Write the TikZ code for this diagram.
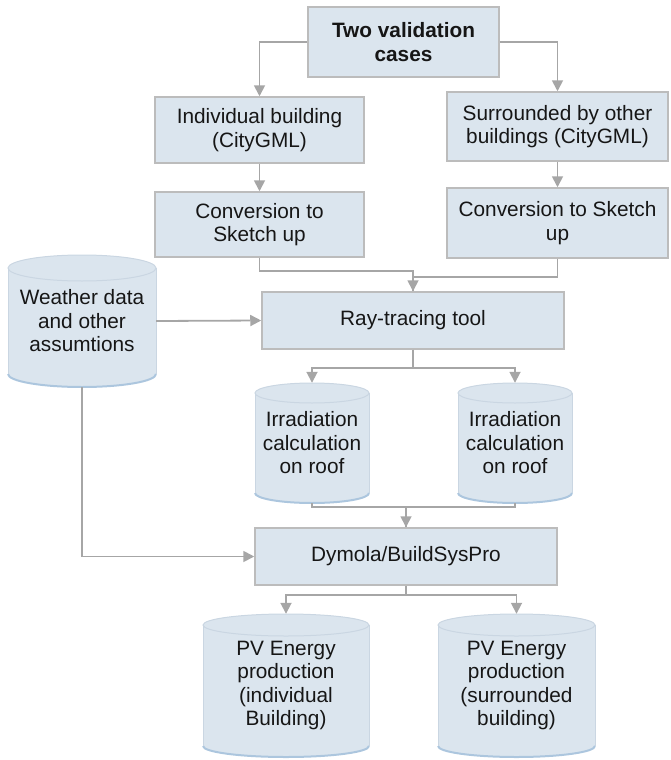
\documentclass[tikz,border=0pt]{standalone}
\usepackage{fontspec}
\setmainfont{Liberation Sans}
\usetikzlibrary{arrows.meta,calc}
\definecolor{boxfill}{RGB}{219,229,238}
\definecolor{boxdraw}{RGB}{188,188,188}
\definecolor{linecol}{RGB}{166,166,166}
\definecolor{cylfill}{RGB}{219,229,238}
\definecolor{cyledge}{RGB}{202,214,226}
\definecolor{cylshadow}{RGB}{172,198,222}
\definecolor{txt}{RGB}{22,22,22}
\tikzset{
  box/.style={draw=boxdraw, line width=1.5pt, fill=boxfill, inner sep=0pt, align=center, text=txt,
    font=\fontsize{20.8}{23.5}\selectfont},
  cyltext/.style={inner sep=0pt, align=center, text=txt, font=\fontsize{20.8}{23.5}\selectfont},
  conn/.style={draw=linecol, line width=1.8pt, -{Triangle[width=11pt,length=11pt]}},
  plain/.style={draw=linecol, line width=1.8pt},
}
\newcommand\mycyl[7]{%
  \fill[cylfill] (#2-#5, #3+#6) rectangle (#2+#5, #4-#6);
  \fill[cylfill] (#2, #4-#6) ellipse [x radius=#5pt, y radius=#6pt];
  \fill[cylfill] (#2, #3+#6) ellipse [x radius=#5pt, y radius=#6pt];
  \draw[cylshadow, line width=2pt] (#2-#5, #4-#6) arc[start angle=180, end angle=360, x radius=#5pt, y radius=#6pt];
  \draw[cyledge, line width=1pt] (#2, #3+#6) ellipse [x radius=#5pt, y radius=#6pt];
  \draw[cyledge, line width=1pt] (#2-#5, #3+#6) -- (#2-#5, #4-#6);
  \draw[cyledge, line width=1pt] (#2+#5, #3+#6) -- (#2+#5, #4-#6);
  \node[cyltext, minimum width={2*#5pt}, minimum height={#4-#3}] (#1) at ({#2},{(#3+#4)/2}) {#7};
}
\begin{document}
\begin{tikzpicture}[x=1pt,y=-1pt]
\useasboundingbox (0,0) rectangle (670,760);
% boxes
\node[box, minimum width=191pt, minimum height=70pt, font=\fontsize{20.8}{23.5}\selectfont\bfseries] (top) at (403.5,42) {Two validation\\cases};
\node[box, minimum width=209pt, minimum height=66pt] (ind) at (259.5,130) {Individual building\\(CityGML)};
\node[box, minimum width=221pt, minimum height=69pt] (sur) at (557.5,126.5) {Surrounded by other\\buildings (CityGML)};
\node[box, minimum width=209pt, minimum height=65pt] (conv1) at (259.5,224.5) {Conversion to\\Sketch up};
\node[box, minimum width=221pt, minimum height=70pt] (conv2) at (557.5,223) {Conversion to Sketch\\up};
\node[box, minimum width=302pt, minimum height=57pt] (ray) at (413,320.5) {Ray-tracing tool};
\node[box, minimum width=302pt, minimum height=57pt] (dym) at (406,556.5) {Dymola/BuildSysPro};
% cylinders
\mycyl{weather}{82}{255}{387}{74}{13}{Weather data\\and other\\assumtions}
\mycyl{irr1}{312}{383}{503}{57}{10}{Irradiation\\calculation\\on roof}
\mycyl{irr2}{515}{383}{503}{57}{10}{Irradiation\\calculation\\on roof}
\mycyl{pv1}{286}{614}{757}{83}{11}{PV Energy\\production\\(individual\\Building)}
\mycyl{pv2}{516.5}{614}{757}{78.5}{11}{PV Energy\\production\\(surrounded\\building)}
% connectors
\draw[conn] (top.west) -| (ind.north);
\draw[conn] (top.east) -| (sur.north);
\draw[conn] (ind.south) -- (conv1.north);
\draw[conn] (sur.south) -- (conv2.north);
\draw[plain] (conv1.south) -- ++(0,13) -| (ray.north);
\draw[conn] (conv2.south) -- ++(0,18) -| (ray.north);
\draw[conn] (weather.east) -- (ray.west);
\draw[conn] (ray.south) -- ++(0,18) -| (irr1.north);
\draw[conn] (ray.south) -- ++(0,18) -| (irr2.north);
\draw[plain] (irr1.south) -- ++(0,4) -| (dym.north);
\draw[conn] (irr2.south) -- ++(0,4) -| (dym.north);
\draw[conn] (weather.south) |- (dym.west);
\draw[conn] (dym.south) -- ++(0,9) -| (pv1.north);
\draw[conn] (dym.south) -- ++(0,9) -| (pv2.north);
\end{tikzpicture}
\end{document}
